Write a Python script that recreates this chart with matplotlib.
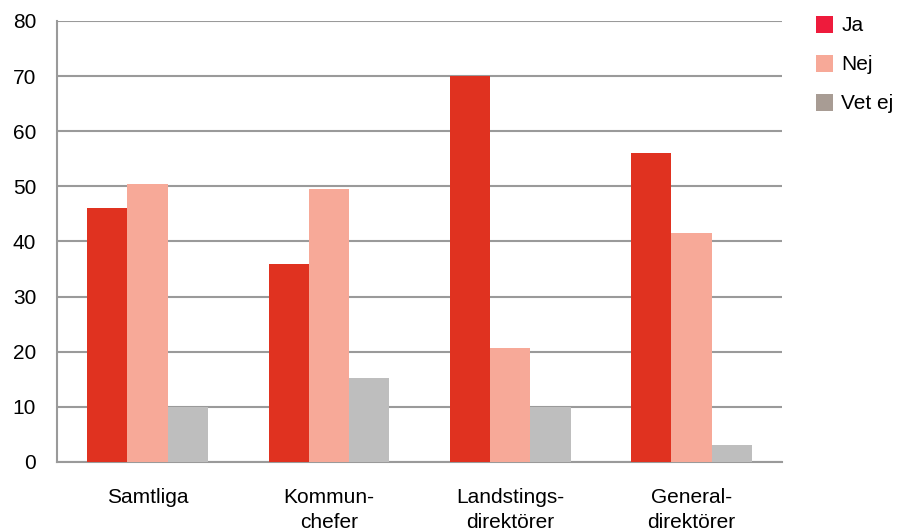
import numpy as np
import matplotlib.pyplot as plt
from matplotlib.patches import Patch

plt.rcParams['font.family'] = ['Liberation Sans', 'DejaVu Sans']

categories = ["Samtliga", "Kommun-\nchefer", "Landstings-\ndirektörer", "General-\ndirektörer"]
series_names = ["Ja", "Nej", "Vet ej"]
ja = [46, 36, 70, 56]
nej = [50.5, 49.6, 20.7, 41.6]
vet_ej = [10, 15.2, 10, 3]

bar_colors = ["#E03220", "#F7A998", "#BEBEBE"]
legend_colors = ["#EE1B3C", "#F7A998", "#A89C94"]

fig = plt.figure(figsize=(8.97, 5.31), dpi=100)
ax = fig.add_axes([0.0635, 0.13, 0.8085, 0.8305])

x = np.arange(len(categories))
w = 0.222
for i, vals in enumerate([ja, nej, vet_ej]):
    ax.bar(x + (i - 1) * w, vals, width=w, color=bar_colors[i], zorder=3)

ax.set_xlim(-0.5, 3.5)
ax.set_ylim(0, 80)
ax.set_yticks(range(0, 81, 10))
ax.yaxis.grid(True, color="#9a9a9a", linewidth=1.5, zorder=0)
ax.set_axisbelow(True)
for s in ["top", "right"]:
    ax.spines[s].set_visible(False)
for s in ["left", "bottom"]:
    ax.spines[s].set_color("#9a9a9a")
    ax.spines[s].set_linewidth(1.5)
ax.tick_params(axis="y", length=0, pad=15, labelsize=15)
ax.tick_params(axis="x", length=0, pad=19, labelsize=15)
ax.set_xticks(x)
ax.set_xticklabels(categories, linespacing=1.4, va="top")

handles = [Patch(facecolor=c, edgecolor="none") for c in legend_colors]
fig.legend(handles, series_names, loc="upper left", bbox_to_anchor=(0.889, 1.006),
           frameon=False, fontsize=15, handlelength=0.8, handleheight=0.9,
           handletextpad=0.4, labelspacing=0.92)

fig.savefig("out.png", dpi=100)
